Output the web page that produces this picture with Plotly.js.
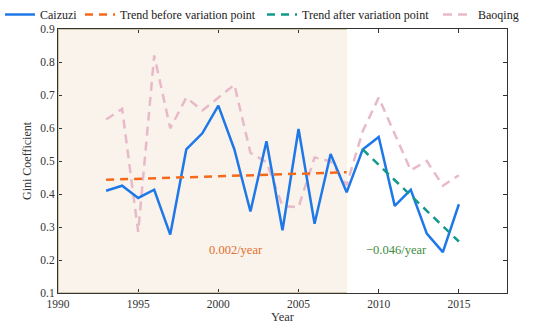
<!DOCTYPE html>
<html>
<head>
<meta charset="utf-8">
<script src="https://cdn.plot.ly/plotly-3.0.1.min.js"></script>
<style>html,body{margin:0;padding:0;background:#fff;}#chart{width:550px;height:332px;}</style>
</head>
<body>
<div id="chart"></div>
<script>
// Data
const years = [1993,1994,1995,1996,1997,1998,1999,2000,2001,2002,2003,2004,2005,2006,2007,2008,2009,2010,2011,2012,2013,2014,2015];
const caizuzi = [0.410,0.425,0.388,0.413,0.277,0.535,0.584,0.668,0.535,0.347,0.560,0.290,0.597,0.310,0.521,0.405,0.535,0.573,0.364,0.413,0.280,0.224,0.369];
const baoqing = [0.626,0.658,0.285,0.820,0.599,0.692,0.653,0.692,0.731,0.525,0.496,0.364,0.360,0.511,0.499,0.427,0.590,0.692,0.580,0.472,0.500,0.425,0.457];
const trendBeforeYears = [1993, 2008];
const trendBeforeVals = [0.443, 0.466];
const trendAfterYears = [2009, 2015];
const trendAfterVals = [0.535, 0.256];
const shadeStart = 1990, variationPoint = 2008;
const xTicks = [1990,1995,2000,2005,2010,2015];
const yTicks = [0.1,0.2,0.3,0.4,0.5,0.6,0.7,0.8,0.9];
const slopeBefore = '0.002/year';
const slopeAfter = '\u22120.046/year';

const FONT = 'Liberation Serif';

const traces = [
  {x: years, y: baoqing, name: 'Baoqing', mode: 'lines', legend: 'legend4', line: {color: '#e8b9c9', width: 2.5, dash: '9px,6px'}},
  {x: years, y: caizuzi, name: 'Caizuzi', mode: 'lines', legend: 'legend', line: {color: '#1f78e8', width: 2.5}},
  {x: trendBeforeYears, y: trendBeforeVals, name: 'Trend before variation point', mode: 'lines', legend: 'legend2', line: {color: '#f56a1a', width: 2.5, dash: '8px,6px'}},
  {x: trendAfterYears, y: trendAfterVals, name: 'Trend after variation point', mode: 'lines', legend: 'legend3', line: {color: '#12998a', width: 2.5, dash: '8px,6px'}}
];

const axisCommon = {
  showgrid: false, zeroline: false, showline: true, linecolor: '#333', linewidth: 1,
  mirror: 'ticks', ticks: 'inside', ticklen: 4, tickcolor: '#333',
  tickfont: {family: FONT, size: 11.5, color: '#333'}
};

function leg(xpx) {
  return {
    orientation: 'h', xref: 'container', yref: 'container', x: xpx / 550, y: 1, yanchor: 'top', xanchor: 'left',
    bgcolor: 'rgba(0,0,0,0)', borderwidth: 0, font: {family: FONT, size: 12, color: '#222'}
  };
}

const layout = {
  width: 550, height: 332,
  margin: {l: 58, r: 43, t: 21, b: 39},
  paper_bgcolor: '#fff', plot_bgcolor: '#fff',
  font: {family: FONT, size: 12, color: '#333'},
  showlegend: true,
  legend: leg(-2), legend2: leg(80), legend3: leg(262), legend4: leg(438),
  xaxis: Object.assign({}, axisCommon, {
    range: [1990, 2018], tickvals: xTicks, ticktext: xTicks.map(String),
    title: {text: 'Year', font: {family: FONT, size: 12.5, color: '#333'}, standoff: 3}
  }),
  yaxis: Object.assign({}, axisCommon, {
    range: [0.1, 0.9], tickvals: yTicks, ticktext: yTicks.map(v => v.toFixed(1)),
    title: {text: 'Gini Coefficient', font: {family: FONT, size: 12, color: '#333'}, standoff: 6}
  }),
  shapes: [
    {type: 'rect', xref: 'x', yref: 'y', x0: shadeStart, x1: variationPoint, y0: 0.1, y1: 0.9,
     fillcolor: '#faf3ec', line: {width: 0}, layer: 'below'},
    {type: 'line', xref: 'x', yref: 'y', x0: shadeStart, x1: variationPoint, y0: 0.9, y1: 0.9, line: {color: '#cfc8a8', width: 2}, layer: 'above'},
    {type: 'line', xref: 'x', yref: 'y', x0: shadeStart, x1: variationPoint, y0: 0.1, y1: 0.1, line: {color: '#cfc8a8', width: 2}, layer: 'above'},
    {type: 'line', xref: 'x', yref: 'y', x0: shadeStart, x1: shadeStart, y0: 0.1, y1: 0.9, line: {color: '#cfc8a8', width: 2}, layer: 'above'},
    {type: 'line', xref: 'x', yref: 'y', x0: variationPoint, x1: variationPoint, y0: 0.1, y1: 0.9, line: {color: '#fbf3d4', width: 1}, layer: 'below'}
  ],
  annotations: [
    {x: 2001.1, y: 0.229, xref: 'x', yref: 'y', text: slopeBefore, showarrow: false,
     font: {family: FONT, size: 12.5, color: '#e0712c'}},
    {x: 2011.1, y: 0.229, xref: 'x', yref: 'y', text: slopeAfter, showarrow: false,
     font: {family: FONT, size: 12.5, color: '#3c8c3c'}}
  ]
};

Plotly.newPlot('chart', traces, layout, {staticPlot: true, displayModeBar: false});
</script>
</body>
</html>
